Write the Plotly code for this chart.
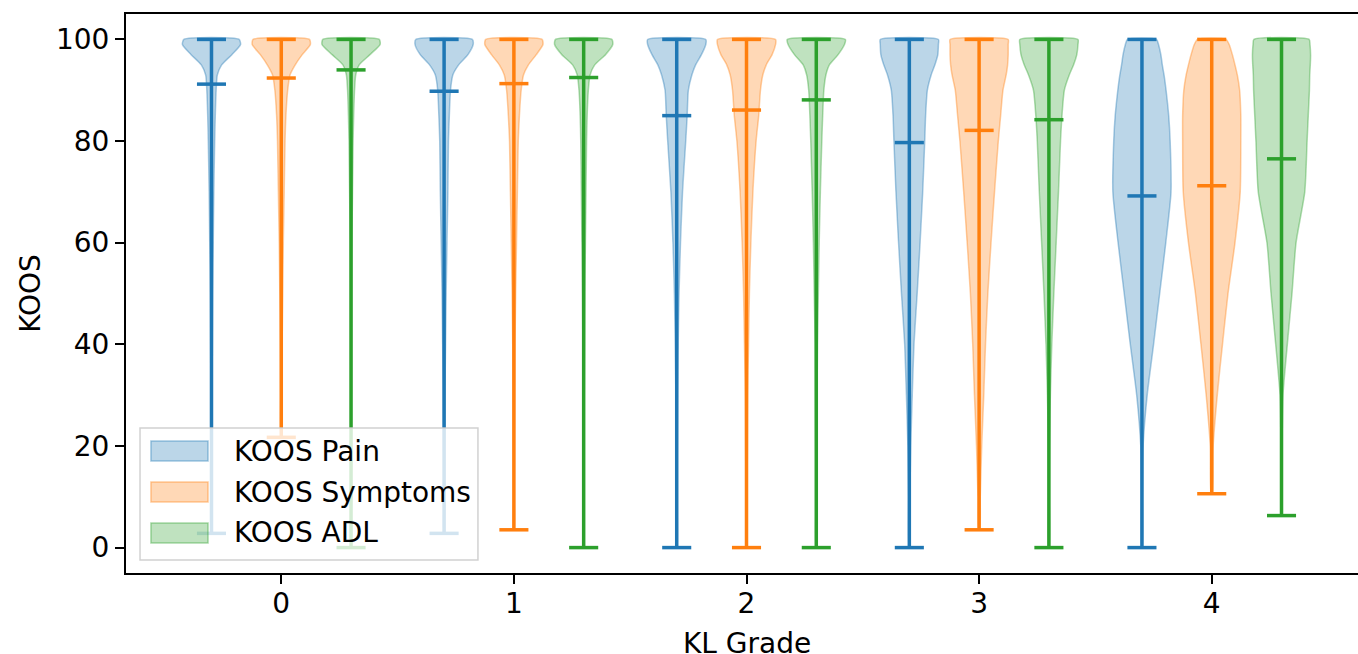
import plotly.graph_objects as go

# ---------------- data ----------------
KL_GRADES = [0, 1, 2, 3, 4]
TICK_LABELS = ["0", "1", "2", "3", "4"]
Y_TICKS = [0, 20, 40, 60, 80, 100]
SERIES = ["KOOS Pain", "KOOS Symptoms", "KOOS ADL"]
COLORS = ["31,119,180", "255,127,14", "44,160,44"]
OFFSETS = [-0.3, 0.0, 0.3]

PAIN_MIN = [2.8, 2.8, 0.0, 0.0, 0.0]
PAIN_MAX = [100, 100, 100, 100, 100]
PAIN_MEAN = [91.2, 89.8, 85.0, 79.7, 69.2]

SYMPTOMS_MIN = [21.7, 3.5, 0.0, 3.5, 10.6]
SYMPTOMS_MAX = [100, 100, 100, 100, 100]
SYMPTOMS_MEAN = [92.4, 91.3, 86.1, 82.1, 71.2]

ADL_MIN = [0.0, 0.0, 0.0, 0.0, 6.3]
ADL_MAX = [100, 100, 100, 100, 100]
ADL_MEAN = [94.0, 92.5, 88.1, 84.2, 76.5]

# relative density (1 = widest) of each violin at these score levels
LEVELS = [100, 99, 97, 95, 93, 90, 85, 80, 70, 60, 50, 40, 30, 20, 10, 0]
PAIN_DENSITY = [
    [0.95, 1.0, 0.70, 0.35, 0.20, 0.16, 0.13, 0.11, 0.08, 0.06, 0.04, 0.03, 0.02, 0.015, 0.01, 0.01],
    [0.97, 1.0, 0.82, 0.50, 0.30, 0.22, 0.18, 0.15, 0.13, 0.10, 0.07, 0.05, 0.03, 0.02, 0.01, 0.01],
    [1.0, 1.0, 0.85, 0.65, 0.52, 0.40, 0.36, 0.31, 0.20, 0.13, 0.08, 0.05, 0.03, 0.02, 0.01, 0.01],
    [1.0, 1.0, 0.98, 0.88, 0.75, 0.62, 0.56, 0.53, 0.46, 0.37, 0.27, 0.16, 0.10, 0.05, 0.02, 0.01],
    [0.50, 0.57, 0.65, 0.70, 0.76, 0.83, 0.92, 0.97, 1.0, 0.82, 0.61, 0.40, 0.18, 0.04, 0.02, 0.01],
]
SYMPTOMS_DENSITY = [
    [0.97, 1.0, 0.72, 0.48, 0.30, 0.22, 0.16, 0.13, 0.10, 0.07, 0.05, 0.03, 0.02, 0.01, 0.01, 0.01],
    [0.97, 1.0, 0.77, 0.50, 0.33, 0.25, 0.19, 0.15, 0.12, 0.09, 0.06, 0.04, 0.03, 0.02, 0.01, 0.01],
    [1.0, 1.0, 0.88, 0.68, 0.56, 0.48, 0.42, 0.33, 0.22, 0.15, 0.10, 0.07, 0.04, 0.03, 0.02, 0.01],
    [1.0, 1.0, 1.0, 0.98, 0.93, 0.82, 0.74, 0.66, 0.53, 0.41, 0.30, 0.22, 0.16, 0.09, 0.04, 0.02],
    [0.49, 0.60, 0.71, 0.80, 0.88, 0.96, 1.0, 1.0, 0.98, 0.80, 0.56, 0.37, 0.19, 0.05, 0.02, 0.01],
]
ADL_DENSITY = [
    [0.97, 1.0, 0.65, 0.28, 0.16, 0.12, 0.09, 0.07, 0.05, 0.03, 0.02, 0.015, 0.01, 0.01, 0.005, 0.005],
    [0.97, 1.0, 0.75, 0.38, 0.22, 0.16, 0.12, 0.10, 0.08, 0.06, 0.04, 0.03, 0.02, 0.01, 0.01, 0.005],
    [1.0, 0.97, 0.75, 0.45, 0.33, 0.26, 0.22, 0.19, 0.14, 0.10, 0.07, 0.04, 0.03, 0.02, 0.01, 0.01],
    [1.0, 1.0, 0.96, 0.85, 0.70, 0.53, 0.45, 0.40, 0.33, 0.25, 0.17, 0.10, 0.05, 0.02, 0.01, 0.01],
    [0.95, 0.98, 1.0, 0.99, 0.97, 0.96, 0.92, 0.88, 0.80, 0.50, 0.36, 0.20, 0.05, 0.02, 0.01, 0.01],
]

MINS = [PAIN_MIN, SYMPTOMS_MIN, ADL_MIN]
MAXS = [PAIN_MAX, SYMPTOMS_MAX, ADL_MAX]
MEANS = [PAIN_MEAN, SYMPTOMS_MEAN, ADL_MEAN]
DENS = [PAIN_DENSITY, SYMPTOMS_DENSITY, ADL_DENSITY]

VIOLIN_WIDTH = 0.25
HALF = VIOLIN_WIDTH / 2
CAP = VIOLIN_WIDTH / 4

fig = go.Figure()

for s, name in enumerate(SERIES):
    rgb = COLORS[s]
    # bodies
    for g, grade in enumerate(KL_GRADES):
        c = grade + OFFSETS[s]
        vmin, vmax = MINS[s][g], MAXS[s][g]
        ys, ws = [], []
        for lv, d in zip(LEVELS, DENS[s][g]):
            if vmin <= lv <= vmax:
                ys.append(lv)
                ws.append(d)
        if ys[-1] > vmin:
            nxt = [d for lv, d in zip(LEVELS, DENS[s][g]) if lv < vmin]
            ys.append(vmin)
            ws.append(nxt[0] if nxt else ws[-1])
        xr = [c + w * HALF for w in ws]
        xl = [c - w * HALF for w in ws][::-1]
        px = xr + xl + [xr[0]]
        py = ys + ys[::-1] + [ys[0]]
        fig.add_trace(go.Scatter(
            x=px, y=py, mode="lines", fill="toself",
            fillcolor=f"rgba({rgb},0.3)",
            line=dict(color=f"rgba({rgb},0.38)", width=1.5, shape="spline", smoothing=0.6),
            name=name, showlegend=False, hoverinfo="skip",
        ))
    # extrema, bars and means
    lx, ly = [], []
    for g, grade in enumerate(KL_GRADES):
        c = grade + OFFSETS[s]
        lx += [c, c, None]
        ly += [MINS[s][g], MAXS[s][g], None]
        for v in (MINS[s][g], MAXS[s][g], MEANS[s][g]):
            lx += [c - CAP, c + CAP, None]
            ly += [v, v, None]
    fig.add_trace(go.Scatter(
        x=lx, y=ly, mode="lines", line=dict(color=f"rgb({rgb})", width=3.5),
        showlegend=False, hoverinfo="skip",
    ))

# ---------------- legend (boxed key in plot-area coordinates) ----------------
FONT = "DejaVu Sans"
FS = 28
shapes = [dict(
    type="rect", xref="paper", yref="paper", x0=0.0113, x1=0.2836, y0=0.0233, y1=0.2594,
    fillcolor="rgba(255,255,255,0.8)", line=dict(color="rgba(204,204,204,0.9)", width=1.5),
    layer="above",
)]
annotations = []
ROW_Y = [0.2182, 0.1449, 0.0716]
for i, name in enumerate(SERIES):
    rgb = COLORS[i]
    yc = ROW_Y[i]
    shapes.append(dict(
        type="rect", xref="paper", yref="paper", x0=0.0201, x1=0.0661,
        y0=yc - 0.0179, y1=yc + 0.0179,
        fillcolor=f"rgba({rgb},0.3)", line=dict(color=f"rgba({rgb},0.4)", width=1.5),
        layer="above",
    ))
    annotations.append(dict(
        xref="paper", yref="paper", x=0.0854, y=yc, xanchor="left", yanchor="middle",
        text=name, showarrow=False, font=dict(family=FONT, size=FS, color="black"),
    ))

# x-axis title placed just below the tick labels
annotations.append(dict(
    xref="paper", yref="paper", x=0.5, y=-0.127, xanchor="center", yanchor="middle",
    text="KL Grade", showarrow=False, font=dict(family=FONT, size=FS, color="black"),
))

fig.update_layout(
    width=1367, height=654,
    margin=dict(l=126, r=0, t=14, b=81, autoexpand=False),
    paper_bgcolor="white", plot_bgcolor="white",
    font=dict(family=FONT, size=FS, color="black"),
    showlegend=False,
    shapes=shapes, annotations=annotations,
    xaxis=dict(
        range=[-0.6675, 4.6675],
        tickmode="array", tickvals=KL_GRADES, ticktext=TICK_LABELS,
        showline=True, linecolor="black", linewidth=2, mirror=True,
        ticks="outside", ticklen=9, tickwidth=1.8, tickcolor="black",
        ticklabelstandoff=-5, automargin=False,
        showgrid=False, zeroline=False,
        tickfont=dict(family=FONT, size=FS),
    ),
    yaxis=dict(
        range=[-5, 105],
        tickmode="array", tickvals=Y_TICKS,
        showline=True, linecolor="black", linewidth=2, mirror=False,
        ticks="outside", ticklen=9, tickwidth=1.8, tickcolor="black",
        automargin=False,
        showgrid=False, zeroline=False,
        tickfont=dict(family=FONT, size=FS),
        title=dict(text="KOOS", font=dict(family=FONT, size=FS), standoff=7),
    ),
)

fig.write_html(
    "out.html",
    config={"displayModeBar": False},
    post_script=(
        "document.documentElement.style.overflow='hidden';"
        "document.body.style.overflow='hidden';"
        "document.body.style.margin='0';"
    ),
)
